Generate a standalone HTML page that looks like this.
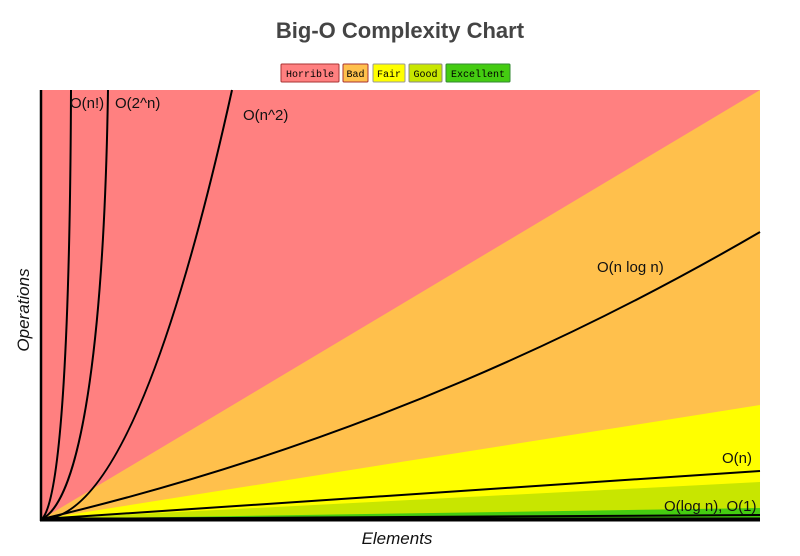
<!DOCTYPE html>
<html><head><style>
html,body{margin:0;padding:0;background:#fff;width:800px;height:556px;overflow:hidden}
</style></head><body>
<svg width="800" height="556" xmlns="http://www.w3.org/2000/svg" font-family="Liberation Sans, sans-serif">
<rect width="800" height="556" fill="#fff"/>
<text x="400" y="38" text-anchor="middle" font-size="22" font-weight="bold" fill="#444">Big-O Complexity Chart</text>
<g font-family="Liberation Mono, monospace" font-size="10">
<rect x="281" y="64" width="58" height="18" fill="#ff8080" stroke="#a33" rx="1"/><text x="310" y="77" text-anchor="middle">Horrible</text>
<rect x="343" y="64" width="25" height="18" fill="#ffc04c" stroke="#a33" rx="1"/><text x="355.5" y="77" text-anchor="middle">Bad</text>
<rect x="373" y="64" width="32" height="18" fill="#ffff00" stroke="#999" rx="1"/><text x="389" y="77" text-anchor="middle">Fair</text>
<rect x="409" y="64" width="33" height="18" fill="#c8e600" stroke="#888" rx="1"/><text x="425.5" y="77" text-anchor="middle">Good</text>
<rect x="446" y="64" width="64" height="18" fill="#44cc11" stroke="#383" rx="1"/><text x="478" y="77" text-anchor="middle">Excellent</text>
</g>
<rect x="41" y="90" width="719" height="430" fill="#ff8080"/>
<polygon points="42,519 760,90 760,519" fill="#ffc04c"/>
<polygon points="42,519 760,405 760,519" fill="#ffff00"/>
<polygon points="42,519 760,482 760,519" fill="#c8e600"/>
<polygon points="42,519 760,508 760,519" fill="#44cc11"/>
<g fill="none" stroke="#000" stroke-width="2">
<path d="M42,519 C60,500 70,350 71,90"/>
<path d="M42,519 C80,500 104,350 108,90"/>
<path d="M42,519 Q137,519 232,90"/>
<path d="M42,519 Q420,430 760,232"/>
<path d="M42,519 L760,471"/>
<path d="M42,519 L760,515"/>
</g>
<line x1="41" y1="90" x2="41" y2="521" stroke="#000" stroke-width="2.5"/>
<line x1="40" y1="519.5" x2="760" y2="519.5" stroke="#000" stroke-width="4"/>
<g font-size="15" fill="#111">
<text x="70" y="108">O(n!)</text>
<text x="115" y="108">O(2^n)</text>
<text x="243" y="120">O(n^2)</text>
<text x="597" y="272">O(n log n)</text>
<text x="722" y="463">O(n)</text>
<text x="664" y="511">O(log n), O(1)</text>
</g>
<text x="397" y="544" text-anchor="middle" font-size="17" font-style="italic" fill="#111">Elements</text>
<text transform="translate(29,310) rotate(-90)" text-anchor="middle" font-size="17" font-style="italic" fill="#111">Operations</text>
</svg>
</body></html>
